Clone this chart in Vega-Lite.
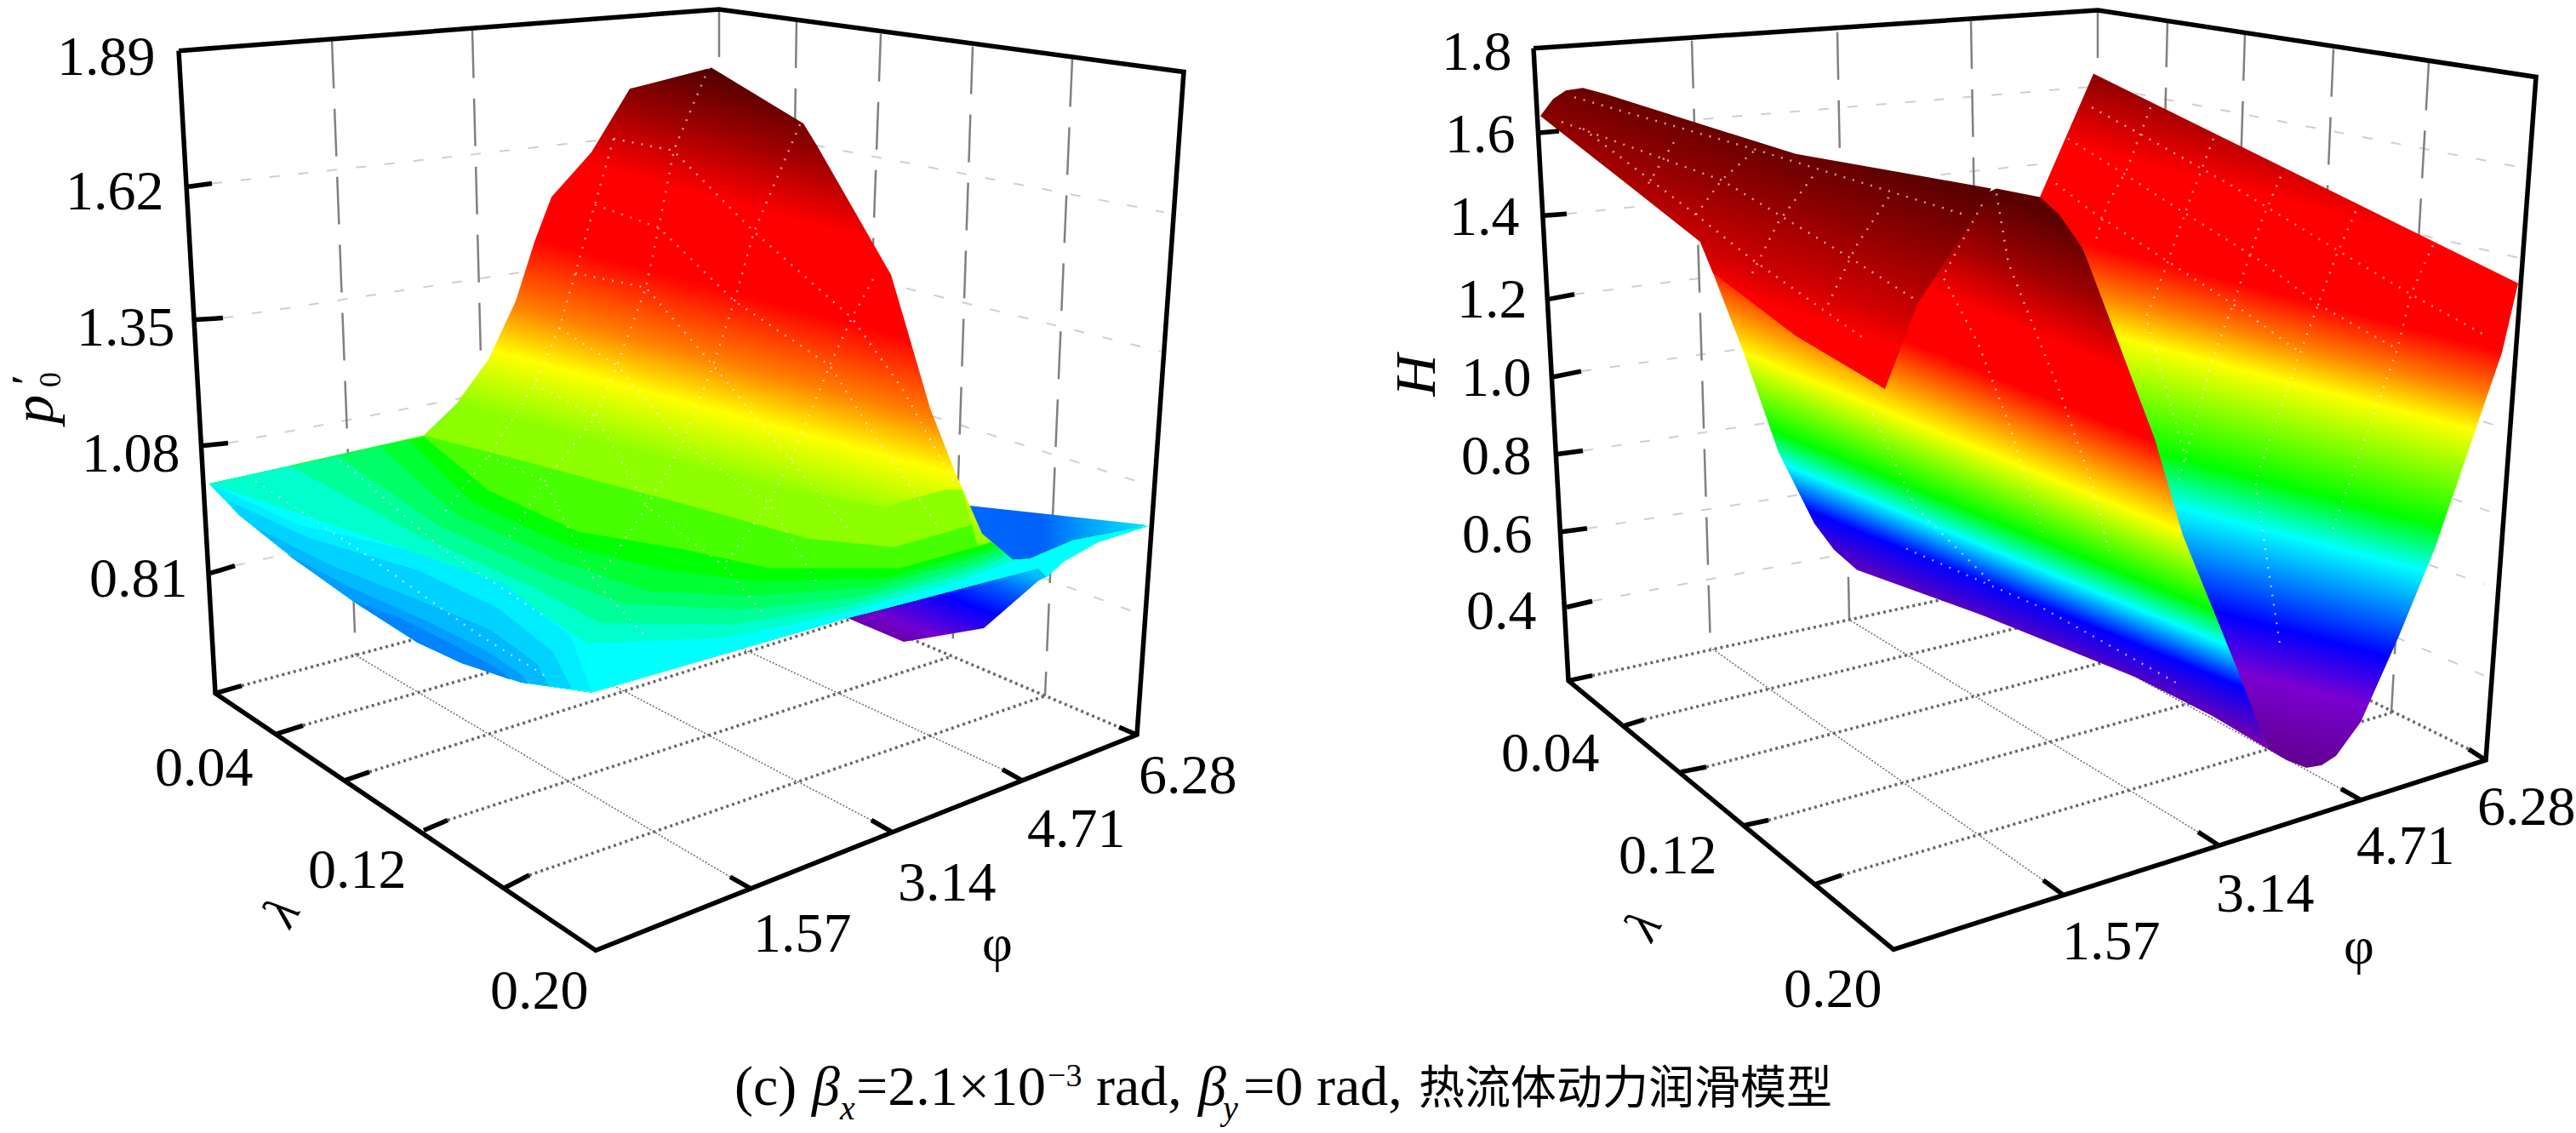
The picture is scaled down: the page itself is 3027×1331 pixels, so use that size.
{
  "$schema": "https://vega.github.io/schema/vega-lite/v6.json",
  "width": 3027,
  "height": 1331,
  "autosize": {"type": "fit", "contains": "padding"},
  "padding": 0,
  "background": "white",
  "config": {"view": {"stroke": null}},
  "datasets": {
    "wallH": [
      {"p":"a","x":249,"y":208},{"p":"a","x":845,"y":141},{"p":"a","x":1368,"y":242},
      {"p":"b","x":262,"y":367},{"p":"b","x":845,"y":277},{"p":"b","x":1365,"y":407},
      {"p":"c","x":268,"y":515},{"p":"c","x":845,"y":403},{"p":"c","x":1345,"y":563},
      {"p":"d","x":276,"y":660},{"p":"d","x":845,"y":530},{"p":"d","x":1344,"y":719},
      {"p":"e","x":1832,"y":146},{"p":"e","x":2465,"y":93},{"p":"e","x":2968,"y":190},
      {"p":"f","x":1841,"y":244},{"p":"f","x":2465,"y":178},{"p":"f","x":2960,"y":296},
      {"p":"g","x":1850,"y":339},{"p":"g","x":2465,"y":260},{"p":"g","x":2949,"y":400},
      {"p":"h","x":1858,"y":430},{"p":"h","x":2465,"y":345},{"p":"h","x":2935,"y":495},
      {"p":"i","x":1860,"y":524},{"p":"i","x":2465,"y":432},{"p":"i","x":2931,"y":598},
      {"p":"j","x":1865,"y":616},{"p":"j","x":2465,"y":520},{"p":"j","x":2919,"y":682},
      {"p":"k","x":1871,"y":702},{"p":"k","x":2465,"y":590},{"p":"k","x":2919,"y":790}
    ],
    "wallV": [
      {"p":"a","x":390,"y":39},{"p":"a","x":418,"y":766},
      {"p":"b","x":555,"y":27},{"p":"b","x":573,"y":724},
      {"p":"c","x":845,"y":2},{"p":"c","x":845,"y":650},
      {"p":"d","x":936,"y":15},{"p":"d","x":926,"y":685},
      {"p":"e","x":1035,"y":31},{"p":"e","x":1010,"y":720},
      {"p":"f","x":1143,"y":46},{"p":"f","x":1119,"y":767},
      {"p":"g","x":1260,"y":61},{"p":"g","x":1228,"y":814},
      {"p":"h","x":1988,"y":39},{"p":"h","x":2010,"y":757},
      {"p":"i","x":2159,"y":29},{"p":"i","x":2173,"y":724},
      {"p":"j","x":2316,"y":16},{"p":"j","x":2328,"y":692},
      {"p":"k","x":2465,"y":3},{"p":"k","x":2465,"y":660},
      {"p":"l","x":2547,"y":14},{"p":"l","x":2531,"y":694},
      {"p":"m","x":2638,"y":30},{"p":"m","x":2616,"y":736},
      {"p":"n","x":2742,"y":49},{"p":"n","x":2711,"y":784},
      {"p":"o","x":2854,"y":65},{"p":"o","x":2810,"y":834}
    ],
    "floorA": [
      {"p":"a","x":284,"y":802},{"p":"a","x":845,"y":650},
      {"p":"b","x":356,"y":849},{"p":"b","x":926,"y":685},
      {"p":"c","x":434,"y":904},{"p":"c","x":1010,"y":720},
      {"p":"d","x":526,"y":961},{"p":"d","x":1119,"y":767},
      {"p":"e","x":622,"y":1026},{"p":"e","x":1228,"y":814},
      {"p":"f","x":845,"y":650},{"p":"f","x":1315,"y":851},
      {"p":"g","x":1871,"y":790},{"p":"g","x":2465,"y":660},
      {"p":"h","x":1932,"y":842},{"p":"h","x":2531,"y":694},
      {"p":"i","x":2005,"y":898},{"p":"i","x":2616,"y":736},
      {"p":"j","x":2078,"y":961},{"p":"j","x":2711,"y":784},
      {"p":"k","x":2164,"y":1026},{"p":"k","x":2810,"y":834},
      {"p":"l","x":2465,"y":660},{"p":"l","x":2901,"y":877}
    ],
    "floorB": [
      {"p":"a","x":858,"y":1028},{"p":"a","x":418,"y":766},
      {"p":"b","x":1024,"y":961},{"p":"b","x":573,"y":724},
      {"p":"c","x":1178,"y":901},{"p":"c","x":718,"y":686},
      {"p":"d","x":2401,"y":1032},{"p":"d","x":2010,"y":757},
      {"p":"e","x":2583,"y":975},{"p":"e","x":2173,"y":724},
      {"p":"f","x":2751,"y":924},{"p":"f","x":2328,"y":692}
    ],
    "rearUp": [
      {"x":1139,"y":589},{"x":1348,"y":612},{"x":1276,"y":635},{"x":1210,"y":655},{"x":1184,"y":655},{"x":1150,"y":625}
    ],
    "rearLow": [
      {"x":996,"y":722},{"x":1062,"y":750},{"x":1156,"y":734},{"x":1220,"y":678},{"x":1235,"y":670},{"x":1220,"y":660}
    ],
    "leftBase": [
      {"x":246,"y":563},{"x":498,"y":506},{"x":536,"y":469},{"x":574,"y":416},{"x":606,"y":347},{"x":628,"y":277},{"x":648,"y":224},{"x":695,"y":171},{"x":740,"y":96},{"x":836,"y":71},{"x":944,"y":137},{"x":960,"y":163},{"x":1047,"y":316},{"x":1062,"y":367},{"x":1093,"y":474},{"x":1123,"y":551},{"x":1154,"y":622},
      {"x":1190,"y":653},{"x":1210,"y":652},{"x":1261,"y":630},{"x":1350,"y":613},{"x":1290,"y":632},{"x":1250,"y":655},{"x":1230,"y":673},{"x":1220,"y":663},{"x":996,"y":722},{"x":695,"y":810},{"x":612,"y":798},{"x":542,"y":775},{"x":491,"y":751},{"x":415,"y":702},{"x":332,"y":641},{"x":281,"y":600}
    ],
    "leftBands": [
      {"p":"n1","z":1.22,"x":540,"y":469},{"p":"n1","z":1.22,"x":700,"y":512},{"p":"n1","z":1.22,"x":900,"y":566},{"p":"n1","z":1.22,"x":1040,"y":590},{"p":"n1","z":1.22,"x":1110,"y":570},{"p":"n1","z":1.22,"x":1131,"y":570},{"p":"n1","z":1.22,"x":1149,"y":637},{"p":"n1","z":1.22,"x":1057,"y":663},{"p":"n1","z":1.22,"x":904,"y":663},{"p":"n1","z":1.22,"x":800,"y":640},{"p":"n1","z":1.22,"x":680,"y":620},{"p":"n1","z":1.22,"x":574,"y":571},{"p":"n1","z":1.22,"x":498,"y":506},

      {"p":"n2","z":1.17,"x":498,"y":506},{"p":"n2","z":1.17,"x":600,"y":532},{"p":"n2","z":1.17,"x":800,"y":586},{"p":"n2","z":1.17,"x":950,"y":628},{"p":"n2","z":1.17,"x":1050,"y":638},{"p":"n2","z":1.17,"x":1142,"y":612},{"p":"n2","z":1.17,"x":1149,"y":637},{"p":"n2","z":1.17,"x":1057,"y":663},{"p":"n2","z":1.17,"x":904,"y":663},{"p":"n2","z":1.17,"x":800,"y":640},{"p":"n2","z":1.17,"x":680,"y":620},{"p":"n2","z":1.17,"x":574,"y":571},

      {"p":"p1","z":1.12,"x":498,"y":508},{"p":"p1","z":1.12,"x":574,"y":571},{"p":"p1","z":1.12,"x":680,"y":620},{"p":"p1","z":1.12,"x":800,"y":640},{"p":"p1","z":1.12,"x":904,"y":663},{"p":"p1","z":1.12,"x":1057,"y":663},{"p":"p1","z":1.12,"x":1149,"y":637},{"p":"p1","z":1.12,"x":1165,"y":632},
      {"p":"p1","z":1.12,"x":1190,"y":653},{"p":"p1","z":1.12,"x":1210,"y":652},{"p":"p1","z":1.12,"x":1261,"y":630},{"p":"p1","z":1.12,"x":1350,"y":613},{"p":"p1","z":1.12,"x":1290,"y":632},{"p":"p1","z":1.12,"x":1250,"y":655},{"p":"p1","z":1.12,"x":1230,"y":673},{"p":"p1","z":1.12,"x":1220,"y":663},{"p":"p1","z":1.12,"x":996,"y":722},{"p":"p1","z":1.12,"x":695,"y":810},{"p":"p1","z":1.12,"x":612,"y":798},{"p":"p1","z":1.12,"x":542,"y":775},{"p":"p1","z":1.12,"x":491,"y":751},{"p":"p1","z":1.12,"x":415,"y":702},{"p":"p1","z":1.12,"x":332,"y":641},{"p":"p1","z":1.12,"x":281,"y":600},{"p":"p1","z":1.12,"x":246,"y":563},

      {"p":"p2","z":1.08,"x":480,"y":511},{"p":"p2","z":1.08,"x":555,"y":585},{"p":"p2","z":1.08,"x":668,"y":637},{"p":"p2","z":1.08,"x":780,"y":665},{"p":"p2","z":1.08,"x":894,"y":679},{"p":"p2","z":1.08,"x":1042,"y":674},{"p":"p2","z":1.08,"x":1145,"y":645},{"p":"p2","z":1.08,"x":1170,"y":637},
      {"p":"p2","z":1.08,"x":1190,"y":653},{"p":"p2","z":1.08,"x":1210,"y":652},{"p":"p2","z":1.08,"x":1261,"y":630},{"p":"p2","z":1.08,"x":1350,"y":613},{"p":"p2","z":1.08,"x":1290,"y":632},{"p":"p2","z":1.08,"x":1250,"y":655},{"p":"p2","z":1.08,"x":1230,"y":673},{"p":"p2","z":1.08,"x":1220,"y":663},{"p":"p2","z":1.08,"x":996,"y":722},{"p":"p2","z":1.08,"x":695,"y":810},{"p":"p2","z":1.08,"x":612,"y":798},{"p":"p2","z":1.08,"x":542,"y":775},{"p":"p2","z":1.08,"x":491,"y":751},{"p":"p2","z":1.08,"x":415,"y":702},{"p":"p2","z":1.08,"x":332,"y":641},{"p":"p2","z":1.08,"x":281,"y":600},{"p":"p2","z":1.08,"x":246,"y":563},

      {"p":"p3","z":1.04,"x":446,"y":519},{"p":"p3","z":1.04,"x":536,"y":599},{"p":"p3","z":1.04,"x":656,"y":654},{"p":"p3","z":1.04,"x":760,"y":690},{"p":"p3","z":1.04,"x":884,"y":696},{"p":"p3","z":1.04,"x":1026,"y":685},{"p":"p3","z":1.04,"x":1141,"y":653},{"p":"p3","z":1.04,"x":1175,"y":640},
      {"p":"p3","z":1.04,"x":1190,"y":653},{"p":"p3","z":1.04,"x":1210,"y":652},{"p":"p3","z":1.04,"x":1261,"y":630},{"p":"p3","z":1.04,"x":1350,"y":613},{"p":"p3","z":1.04,"x":1290,"y":632},{"p":"p3","z":1.04,"x":1250,"y":655},{"p":"p3","z":1.04,"x":1230,"y":673},{"p":"p3","z":1.04,"x":1220,"y":663},{"p":"p3","z":1.04,"x":996,"y":722},{"p":"p3","z":1.04,"x":695,"y":810},{"p":"p3","z":1.04,"x":612,"y":798},{"p":"p3","z":1.04,"x":542,"y":775},{"p":"p3","z":1.04,"x":491,"y":751},{"p":"p3","z":1.04,"x":415,"y":702},{"p":"p3","z":1.04,"x":332,"y":641},{"p":"p3","z":1.04,"x":281,"y":600},{"p":"p3","z":1.04,"x":246,"y":563},

      {"p":"p4","z":1.0,"x":396,"y":530},{"p":"p4","z":1.0,"x":516,"y":613},{"p":"p4","z":1.0,"x":644,"y":671},{"p":"p4","z":1.0,"x":730,"y":705},{"p":"p4","z":1.0,"x":873,"y":712},{"p":"p4","z":1.0,"x":1011,"y":697},{"p":"p4","z":1.0,"x":1138,"y":661},{"p":"p4","z":1.0,"x":1180,"y":645},
      {"p":"p4","z":1.0,"x":1190,"y":653},{"p":"p4","z":1.0,"x":1210,"y":652},{"p":"p4","z":1.0,"x":1261,"y":630},{"p":"p4","z":1.0,"x":1350,"y":613},{"p":"p4","z":1.0,"x":1290,"y":632},{"p":"p4","z":1.0,"x":1250,"y":655},{"p":"p4","z":1.0,"x":1230,"y":673},{"p":"p4","z":1.0,"x":1220,"y":663},{"p":"p4","z":1.0,"x":996,"y":722},{"p":"p4","z":1.0,"x":695,"y":810},{"p":"p4","z":1.0,"x":612,"y":798},{"p":"p4","z":1.0,"x":542,"y":775},{"p":"p4","z":1.0,"x":491,"y":751},{"p":"p4","z":1.0,"x":415,"y":702},{"p":"p4","z":1.0,"x":332,"y":641},{"p":"p4","z":1.0,"x":281,"y":600},{"p":"p4","z":1.0,"x":246,"y":563},

      {"p":"p5","z":0.96,"x":340,"y":542},{"p":"p5","z":0.96,"x":497,"y":627},{"p":"p5","z":0.96,"x":632,"y":688},{"p":"p5","z":0.96,"x":705,"y":728},{"p":"p5","z":0.96,"x":863,"y":729},{"p":"p5","z":0.96,"x":995,"y":708},{"p":"p5","z":0.96,"x":1134,"y":669},{"p":"p5","z":0.96,"x":1185,"y":649},
      {"p":"p5","z":0.96,"x":1190,"y":653},{"p":"p5","z":0.96,"x":1210,"y":652},{"p":"p5","z":0.96,"x":1261,"y":630},{"p":"p5","z":0.96,"x":1350,"y":613},{"p":"p5","z":0.96,"x":1290,"y":632},{"p":"p5","z":0.96,"x":1250,"y":655},{"p":"p5","z":0.96,"x":1230,"y":673},{"p":"p5","z":0.96,"x":1220,"y":663},{"p":"p5","z":0.96,"x":996,"y":722},{"p":"p5","z":0.96,"x":695,"y":810},{"p":"p5","z":0.96,"x":612,"y":798},{"p":"p5","z":0.96,"x":542,"y":775},{"p":"p5","z":0.96,"x":491,"y":751},{"p":"p5","z":0.96,"x":415,"y":702},{"p":"p5","z":0.96,"x":332,"y":641},{"p":"p5","z":0.96,"x":281,"y":600},{"p":"p5","z":0.96,"x":246,"y":563},

      {"p":"p6","z":0.92,"x":246,"y":563},{"p":"p6","z":0.92,"x":478,"y":641},{"p":"p6","z":0.92,"x":620,"y":705},{"p":"p6","z":0.92,"x":690,"y":752},{"p":"p6","z":0.92,"x":853,"y":745},{"p":"p6","z":0.92,"x":980,"y":719},{"p":"p6","z":0.92,"x":1130,"y":677},{"p":"p6","z":0.92,"x":1190,"y":655},
      {"p":"p6","z":0.92,"x":1210,"y":652},{"p":"p6","z":0.92,"x":1261,"y":630},{"p":"p6","z":0.92,"x":1350,"y":613},{"p":"p6","z":0.92,"x":1290,"y":632},{"p":"p6","z":0.92,"x":1250,"y":655},{"p":"p6","z":0.92,"x":1230,"y":673},{"p":"p6","z":0.92,"x":1220,"y":663},{"p":"p6","z":0.92,"x":996,"y":722},{"p":"p6","z":0.92,"x":695,"y":810},{"p":"p6","z":0.92,"x":612,"y":798},{"p":"p6","z":0.92,"x":542,"y":775},{"p":"p6","z":0.92,"x":491,"y":751},{"p":"p6","z":0.92,"x":415,"y":702},{"p":"p6","z":0.92,"x":332,"y":641},{"p":"p6","z":0.92,"x":281,"y":600},

      {"p":"q1","z":0.9,"x":246,"y":563},{"p":"q1","z":0.9,"x":351,"y":612},{"p":"q1","z":0.9,"x":478,"y":641},{"p":"q1","z":0.9,"x":593,"y":682},{"p":"q1","z":0.9,"x":670,"y":743},{"p":"q1","z":0.9,"x":695,"y":808},{"p":"q1","z":0.9,"x":612,"y":798},{"p":"q1","z":0.9,"x":542,"y":775},{"p":"q1","z":0.9,"x":491,"y":751},{"p":"q1","z":0.9,"x":415,"y":702},{"p":"q1","z":0.9,"x":332,"y":641},{"p":"q1","z":0.9,"x":281,"y":600},

      {"p":"q2","z":0.87,"x":268,"y":583},{"p":"q2","z":0.87,"x":365,"y":628},{"p":"q2","z":0.87,"x":490,"y":665},{"p":"q2","z":0.87,"x":585,"y":710},{"p":"q2","z":0.87,"x":650,"y":762},{"p":"q2","z":0.87,"x":672,"y":806},{"p":"q2","z":0.87,"x":612,"y":798},{"p":"q2","z":0.87,"x":542,"y":775},{"p":"q2","z":0.87,"x":491,"y":751},{"p":"q2","z":0.87,"x":415,"y":702},{"p":"q2","z":0.87,"x":332,"y":641},{"p":"q2","z":0.87,"x":281,"y":600},

      {"p":"q3","z":0.84,"x":300,"y":615},{"p":"q3","z":0.84,"x":390,"y":660},{"p":"q3","z":0.84,"x":490,"y":700},{"p":"q3","z":0.84,"x":575,"y":735},{"p":"q3","z":0.84,"x":630,"y":775},{"p":"q3","z":0.84,"x":645,"y":803},{"p":"q3","z":0.84,"x":612,"y":798},{"p":"q3","z":0.84,"x":542,"y":775},{"p":"q3","z":0.84,"x":491,"y":751},{"p":"q3","z":0.84,"x":415,"y":702},{"p":"q3","z":0.84,"x":332,"y":641},

      {"p":"q4","z":0.81,"x":335,"y":645},{"p":"q4","z":0.81,"x":410,"y":685},{"p":"q4","z":0.81,"x":500,"y":725},{"p":"q4","z":0.81,"x":570,"y":760},{"p":"q4","z":0.81,"x":615,"y":790},{"p":"q4","z":0.81,"x":620,"y":800},{"p":"q4","z":0.81,"x":612,"y":798},{"p":"q4","z":0.81,"x":542,"y":775},{"p":"q4","z":0.81,"x":491,"y":751},{"p":"q4","z":0.81,"x":415,"y":702},

      {"p":"q5","z":0.78,"x":415,"y":702},{"p":"q5","z":0.78,"x":470,"y":722},{"p":"q5","z":0.78,"x":530,"y":752},{"p":"q5","z":0.78,"x":585,"y":782},{"p":"q5","z":0.78,"x":600,"y":795},{"p":"q5","z":0.78,"x":542,"y":775},{"p":"q5","z":0.78,"x":491,"y":751}
    ],
    "sheetC": [
      {"x":2460,"y":78},{"x":2959,"y":326},{"x":2940,"y":408},{"x":2861,"y":640},{"x":2819,"y":743},{"x":2774,"y":845},{"x":2745,"y":885},{"x":2728,"y":896},{"x":2710,"y":899},{"x":2687,"y":890},{"x":2665,"y":877},{"x":2569,"y":640},{"x":2448,"y":286},{"x":2397,"y":224}
    ],
    "sheetB": [
      {"x":1998,"y":277},{"x":2013,"y":314},{"x":2049,"y":408},{"x":2090,"y":526},{"x":2132,"y":610},{"x":2155,"y":641},{"x":2182,"y":665},{"x":2328,"y":718},{"x":2510,"y":792},{"x":2600,"y":838},{"x":2665,"y":877},{"x":2628,"y":780},{"x":2565,"y":624},{"x":2532,"y":510},{"x":2448,"y":286},{"x":2420,"y":245},{"x":2397,"y":224},{"x":2346,"y":214},{"x":2320,"y":225},{"x":2100,"y":300}
    ],
    "sheetA": [
      {"x":1810,"y":128},{"x":1825,"y":108},{"x":1840,"y":98},{"x":1860,"y":95},{"x":1886,"y":102},{"x":2110,"y":173},{"x":2263,"y":200},{"x":2340,"y":214},{"x":2329,"y":233},{"x":2253,"y":351},{"x":2215,"y":451},{"x":2110,"y":388},{"x":2013,"y":314},{"x":1998,"y":277},{"x":1911,"y":208}
    ],
    "mesh": [
      {"p":"m1","x":833,"y":71},{"p":"m1","x":792,"y":168},{"p":"m1","x":774,"y":260},{"p":"m1","x":759,"y":331},{"p":"m1","x":725,"y":423},{"p":"m1","x":700,"y":484},{"p":"m1","x":640,"y":560},{"p":"m1","x":590,"y":640},
      {"p":"m2","x":721,"y":155},{"p":"m2","x":699,"y":233},{"p":"m2","x":676,"y":314},{"p":"m2","x":657,"y":379},{"p":"m2","x":628,"y":445},{"p":"m2","x":574,"y":530},{"p":"m2","x":520,"y":600},
      {"p":"m3","x":940,"y":138},{"p":"m3","x":886,"y":265},{"p":"m3","x":863,"y":347},{"p":"m3","x":838,"y":423},{"p":"m3","x":802,"y":515},{"p":"m3","x":760,"y":590},{"p":"m3","x":700,"y":680},
      {"p":"m4","x":1026,"y":321},{"p":"m4","x":1001,"y":367},{"p":"m4","x":975,"y":423},{"p":"m4","x":929,"y":535},{"p":"m4","x":904,"y":586},{"p":"m4","x":850,"y":660},
      {"p":"m5","x":721,"y":155},{"p":"m5","x":791,"y":169},{"p":"m5","x":886,"y":265},{"p":"m5","x":1001,"y":367},{"p":"m5","x":1060,"y":450},{"p":"m5","x":1120,"y":560},
      {"p":"m6","x":699,"y":233},{"p":"m6","x":774,"y":260},{"p":"m6","x":863,"y":347},{"p":"m6","x":975,"y":423},{"p":"m6","x":1030,"y":510},{"p":"m6","x":1100,"y":610},
      {"p":"m7","x":676,"y":314},{"p":"m7","x":759,"y":331},{"p":"m7","x":838,"y":423},{"p":"m7","x":929,"y":535},{"p":"m7","x":1000,"y":620},
      {"p":"m8","x":657,"y":379},{"p":"m8","x":725,"y":423},{"p":"m8","x":802,"y":515},{"p":"m8","x":904,"y":586},{"p":"m8","x":960,"y":680},
      {"p":"m9","x":628,"y":445},{"p":"m9","x":700,"y":484},{"p":"m9","x":760,"y":590},{"p":"m9","x":850,"y":660},{"p":"m9","x":900,"y":720},
      {"p":"m10","x":574,"y":530},{"p":"m10","x":640,"y":560},{"p":"m10","x":700,"y":680},{"p":"m10","x":760,"y":745},
      {"p":"m11","x":300,"y":560},{"p":"m11","x":420,"y":640},{"p":"m11","x":560,"y":740},{"p":"m11","x":640,"y":790},
      {"p":"m12","x":400,"y":535},{"p":"m12","x":520,"y":640},{"p":"m12","x":640,"y":720},

      {"p":"a1","x":1850,"y":106},{"p":"a1","x":2060,"y":167},{"p":"a1","x":2309,"y":245},
      {"p":"a2","x":1835,"y":135},{"p":"a2","x":2023,"y":204},{"p":"a2","x":2171,"y":294},{"p":"a2","x":2253,"y":347},
      {"p":"a3","x":1860,"y":143},{"p":"a3","x":1993,"y":245},{"p":"a3","x":2059,"y":298},{"p":"a3","x":2194,"y":394},
      {"p":"a4","x":1937,"y":208},{"p":"a4","x":1967,"y":159},
      {"p":"a5","x":1993,"y":245},{"p":"a5","x":2023,"y":204},{"p":"a5","x":2064,"y":167},
      {"p":"a6","x":2059,"y":314},{"p":"a6","x":2090,"y":253},{"p":"a6","x":2130,"y":200},
      {"p":"a7","x":2148,"y":351},{"p":"a7","x":2181,"y":282},{"p":"a7","x":2222,"y":220},

      {"p":"c1","x":2458,"y":118},{"p":"c1","x":2532,"y":159},{"p":"c1","x":2625,"y":212},{"p":"c1","x":2745,"y":286},{"p":"c1","x":2833,"y":339},{"p":"c1","x":2921,"y":388},
      {"p":"c2","x":2430,"y":155},{"p":"c2","x":2495,"y":196},{"p":"c2","x":2564,"y":241},{"p":"c2","x":2657,"y":300},{"p":"c2","x":2724,"y":351},{"p":"c2","x":2817,"y":404},
      {"p":"c3","x":2416,"y":208},{"p":"c3","x":2458,"y":241},{"p":"c3","x":2532,"y":290},{"p":"c3","x":2638,"y":360},{"p":"c3","x":2703,"y":408},
      {"p":"c4","x":2527,"y":118},{"p":"c4","x":2499,"y":192},{"p":"c4","x":2476,"y":233},{"p":"c4","x":2462,"y":277},
      {"p":"c5","x":2601,"y":155},{"p":"c5","x":2573,"y":228},{"p":"c5","x":2546,"y":304},{"p":"c5","x":2522,"y":367},{"p":"c5","x":2570,"y":540},
      {"p":"c6","x":2680,"y":200},{"p":"c6","x":2657,"y":253},{"p":"c6","x":2638,"y":310},{"p":"c6","x":2624,"y":351},{"p":"c6","x":2601,"y":412},{"p":"c6","x":2560,"y":560},
      {"p":"c7","x":2768,"y":241},{"p":"c7","x":2745,"y":294},{"p":"c7","x":2724,"y":351},{"p":"c7","x":2703,"y":408},{"p":"c7","x":2650,"y":560},{"p":"c7","x":2680,"y":760},
      {"p":"c8","x":2859,"y":281},{"p":"c8","x":2833,"y":339},{"p":"c8","x":2817,"y":404},{"p":"c8","x":2791,"y":477},{"p":"c8","x":2740,"y":620},

      {"p":"b1","x":2346,"y":220},{"p":"b1","x":2360,"y":302},{"p":"b1","x":2397,"y":396},{"p":"b1","x":2420,"y":453},{"p":"b1","x":2458,"y":563},{"p":"b1","x":2480,"y":650},
      {"p":"b2","x":2329,"y":233},{"p":"b2","x":2283,"y":318},{"p":"b2","x":2324,"y":396},{"p":"b2","x":2360,"y":490},{"p":"b2","x":2400,"y":620},
      {"p":"b3","x":2200,"y":480},{"p":"b3","x":2250,"y":590},{"p":"b3","x":2340,"y":680},
      {"p":"b4","x":2240,"y":640},{"p":"b4","x":2400,"y":710},{"p":"b4","x":2560,"y":800}
    ],
    "box": [
      {"p":"L","x":210,"y":51},{"p":"L","x":253,"y":811},{"p":"L","x":700,"y":1115},{"p":"L","x":1336,"y":860},{"p":"L","x":1391,"y":76},{"p":"L","x":845,"y":2},{"p":"L","x":210,"y":51},
      {"p":"R","x":1802,"y":48},{"p":"R","x":1843,"y":796},{"p":"R","x":2225,"y":1114},{"p":"R","x":2921,"y":890},{"p":"R","x":2980,"y":82},{"p":"R","x":2465,"y":3},{"p":"R","x":1802,"y":48},
      {"p":"t1","x":220,"y":212},{"p":"t1","x":249,"y":208},
      {"p":"t2","x":230,"y":369},{"p":"t2","x":262,"y":367},
      {"p":"t3","x":239,"y":518},{"p":"t3","x":268,"y":515},
      {"p":"t4","x":247,"y":669},{"p":"t4","x":276,"y":660},
      {"p":"t5","x":253,"y":811},{"p":"t5","x":284,"y":802},
      {"p":"t6","x":325,"y":859},{"p":"t6","x":356,"y":849},
      {"p":"t7","x":405,"y":914},{"p":"t7","x":434,"y":904},
      {"p":"t8","x":498,"y":973},{"p":"t8","x":526,"y":961},
      {"p":"t9","x":593,"y":1041},{"p":"t9","x":622,"y":1026},
      {"p":"t10","x":884,"y":1043},{"p":"t10","x":858,"y":1028},
      {"p":"t11","x":1048,"y":975},{"p":"t11","x":1024,"y":961},
      {"p":"t12","x":1201,"y":914},{"p":"t12","x":1178,"y":901},
      {"p":"t13","x":1336,"y":860},{"p":"t13","x":1315,"y":851},
      {"p":"u1","x":1809,"y":148},{"p":"u1","x":1832,"y":146},
      {"p":"u2","x":1814,"y":246},{"p":"u2","x":1841,"y":244},
      {"p":"u3","x":1819,"y":345},{"p":"u3","x":1850,"y":339},
      {"p":"u4","x":1824,"y":437},{"p":"u4","x":1858,"y":430},
      {"p":"u5","x":1830,"y":528},{"p":"u5","x":1860,"y":524},
      {"p":"u6","x":1835,"y":620},{"p":"u6","x":1865,"y":616},
      {"p":"u7","x":1841,"y":709},{"p":"u7","x":1871,"y":702},
      {"p":"u8","x":1843,"y":796},{"p":"u8","x":1871,"y":790},
      {"p":"u9","x":1909,"y":849},{"p":"u9","x":1932,"y":842},
      {"p":"u10","x":1975,"y":904},{"p":"u10","x":2005,"y":898},
      {"p":"u11","x":2050,"y":967},{"p":"u11","x":2078,"y":961},
      {"p":"u12","x":2132,"y":1037},{"p":"u12","x":2164,"y":1026},
      {"p":"u13","x":2424,"y":1049},{"p":"u13","x":2401,"y":1032},
      {"p":"u14","x":2606,"y":990},{"p":"u14","x":2583,"y":975},
      {"p":"u15","x":2774,"y":937},{"p":"u15","x":2751,"y":924},
      {"p":"u16","x":2921,"y":890},{"p":"u16","x":2901,"y":877}
    ],
    "ticks": [
      {"t":"1.89","x":67,"y":80},{"t":"1.62","x":77,"y":239},{"t":"1.35","x":90,"y":400},{"t":"1.08","x":96,"y":549},{"t":"0.81","x":105,"y":697},
      {"t":"0.04","x":182,"y":920},{"t":"0.12","x":362,"y":1041},{"t":"0.20","x":576,"y":1184},
      {"t":"1.57","x":885,"y":1117},{"t":"3.14","x":1055,"y":1056},{"t":"4.71","x":1207,"y":993},{"t":"6.28","x":1338,"y":929},
      {"t":"1.8","x":1694,"y":74},{"t":"1.6","x":1698,"y":171},{"t":"1.4","x":1703,"y":269},{"t":"1.2","x":1712,"y":366},{"t":"1.0","x":1717,"y":459},{"t":"0.8","x":1717,"y":552},{"t":"0.6","x":1718,"y":644},{"t":"0.4","x":1723,"y":735},
      {"t":"0.04","x":1764,"y":903},{"t":"0.12","x":1902,"y":1024},{"t":"0.20","x":2096,"y":1182},
      {"t":"1.57","x":2423,"y":1126},{"t":"3.14","x":2604,"y":1069},{"t":"4.71","x":2769,"y":1013},{"t":"6.28","x":2911,"y":967}
    ],
    "phi": [{"t":"φ","x":1172,"y":1108},{"t":"φ","x":2772,"y":1112}],
    "lam": [{"t":"λ","x":332,"y":1070},{"t":"λ","x":1932,"y":1086}],
    "rotAxis": [{"t":"p","x":42,"y":475},{"t":"H","x":1666,"y":435}],
    "rotSub": [{"t":"0","x":60,"y":440}],
    "rotPrime": [{"t":"′","x":32,"y":440}],
    "capText": [
      {"t":"(c)","x":863,"y":1298},{"t":"=2.1×10","x":1006,"y":1298},{"t":"rad,","x":1288,"y":1298},{"t":"=0","x":1461,"y":1298},{"t":"rad,","x":1547,"y":1298}
    ],
    "capBeta": [{"t":"β","x":954,"y":1298},{"t":"β","x":1408,"y":1298}],
    "capSub": [{"t":"x","x":987,"y":1315},{"t":"y","x":1437,"y":1315}],
    "capSup": [{"t":"−3","x":1231,"y":1276}],
    "capCjk": [{"t":"热流体动力润滑模型","x":1667,"y":1297}]
  },
  "encoding": {
    "x": {"field": "x", "type": "quantitative", "scale": {"domain": [0, 3027], "nice": false, "zero": false}, "axis": null},
    "y": {"field": "y", "type": "quantitative", "scale": {"domain": [1331, 0], "nice": false, "zero": false}, "axis": null}
  },
  "layer": [
    {
      "data": {"name": "wallH"},
      "mark": {"type": "line", "color": "#cfcfcf", "strokeWidth": 2, "strokeDash": [12, 22]},
      "encoding": {"detail": {"field": "p"}, "order": {"value": null}}
    },
    {
      "data": {"name": "wallV"},
      "mark": {"type": "line", "color": "#808080", "strokeWidth": 2.5, "strokeDash": [56, 24]},
      "encoding": {"detail": {"field": "p"}, "order": {"value": null}}
    },
    {
      "data": {"name": "floorA"},
      "mark": {"type": "line", "color": "#66666e", "strokeWidth": 3.5, "strokeDash": [3, 4]},
      "encoding": {"detail": {"field": "p"}, "order": {"value": null}}
    },
    {
      "data": {"name": "floorB"},
      "mark": {"type": "line", "color": "#6a6a72", "strokeWidth": 1.5, "strokeDash": [2, 2]},
      "encoding": {"detail": {"field": "p"}, "order": {"value": null}}
    },
    {
      "data": {"name": "rearUp"},
      "mark": {"type": "line", "stroke": "transparent", "strokeWidth": 0, "fill": {"gradient": "linear", "x1": 0, "y1": 0.5, "x2": 1, "y2": 0.5, "stops": [{"offset": 0, "color": "#0068ff"}, {"offset": 0.4, "color": "#0060f8"}, {"offset": 0.7, "color": "#00a8ff"}, {"offset": 1, "color": "#00e8ff"}]}},
      "encoding": {"order": {"value": null}}
    },
    {
      "data": {"name": "rearLow"},
      "mark": {"type": "line", "stroke": "transparent", "strokeWidth": 0, "fill": {"gradient": "linear", "x1": 0.2, "y1": 1, "x2": 1, "y2": 0.2, "stops": [{"offset": 0, "color": "#6a00a0"}, {"offset": 0.2, "color": "#7000d0"}, {"offset": 0.55, "color": "#0000ff"}, {"offset": 0.8, "color": "#0060ff"}, {"offset": 1, "color": "#00c0ff"}]}},
      "encoding": {"order": {"value": null}}
    },
    {
      "data": {"name": "leftBase"},
      "mark": {"type": "line", "stroke": "transparent", "strokeWidth": 0, "fill": {"gradient": "linear", "x1": 0.534, "y1": 0, "x2": 0.131, "y2": 1, "stops": [{"offset": 0, "color": "#4f0000"}, {"offset": 0.09, "color": "#a00000"}, {"offset": 0.18, "color": "#ff0000"}, {"offset": 0.3, "color": "#ff0000"}, {"offset": 0.4, "color": "#ff8000"}, {"offset": 0.47, "color": "#ffff00"}, {"offset": 0.665, "color": "#00ff00"}, {"offset": 1, "color": "#00ff00"}]}},
      "encoding": {"order": {"value": null}}
    },
    {
      "data": {"name": "leftBands"},
      "mark": {"type": "line", "stroke": "transparent", "strokeWidth": 0},
      "encoding": {
        "detail": {"field": "p"},
        "order": {"value": null},
        "fill": {"field": "z", "type": "quantitative", "legend": null, "scale": {"domain": [0.72, 0.92, 1.12, 1.3], "range": ["#0050ff", "#00ffff", "#00ff00", "#ffff00"], "interpolate": "rgb"}}
      }
    },
    {
      "data": {"name": "sheetC"},
      "mark": {"type": "line", "stroke": "transparent", "strokeWidth": 0, "fill": {"gradient": "linear", "x1": 0.112, "y1": 0, "x2": -0.066, "y2": 1, "stops": [{"offset": 0, "color": "#8c0000"}, {"offset": 0.11, "color": "#ff0000"}, {"offset": 0.24, "color": "#ff0000"}, {"offset": 0.306, "color": "#ff8000"}, {"offset": 0.36, "color": "#ffff00"}, {"offset": 0.507, "color": "#00ff00"}, {"offset": 0.575, "color": "#00ffff"}, {"offset": 0.708, "color": "#0000ff"}, {"offset": 0.783, "color": "#7a00d0"}, {"offset": 0.892, "color": "#60008f"}, {"offset": 1, "color": "#60008f"}]}},
      "encoding": {"order": {"value": null}}
    },
    {
      "data": {"name": "sheetB"},
      "mark": {"type": "line", "stroke": "transparent", "strokeWidth": 0, "fill": {"gradient": "linear", "x1": 0.5, "y1": 0, "x2": 0.087, "y2": 1, "stops": [{"offset": 0, "color": "#5a0000"}, {"offset": 0.1, "color": "#a00000"}, {"offset": 0.19, "color": "#ff0000"}, {"offset": 0.28, "color": "#ff0000"}, {"offset": 0.34, "color": "#ff8000"}, {"offset": 0.4, "color": "#ffff00"}, {"offset": 0.5, "color": "#00ff00"}, {"offset": 0.545, "color": "#00ffff"}, {"offset": 0.6, "color": "#0000ff"}, {"offset": 0.67, "color": "#6f00b0"}, {"offset": 1, "color": "#6f00b0"}]}},
      "encoding": {"order": {"value": null}}
    },
    {
      "data": {"name": "sheetA"},
      "mark": {"type": "line", "stroke": "transparent", "strokeWidth": 0, "fill": {"gradient": "linear", "x1": 0.5, "y1": 0, "x2": 0.009, "y2": 1, "stops": [{"offset": 0, "color": "#5a0000"}, {"offset": 0.1, "color": "#5a0000"}, {"offset": 0.27, "color": "#8a0000"}, {"offset": 0.49, "color": "#d00000"}, {"offset": 0.58, "color": "#ff0000"}, {"offset": 1, "color": "#ff0000"}]}},
      "encoding": {"order": {"value": null}}
    },
    {
      "data": {"name": "mesh"},
      "mark": {"type": "line", "color": "#f2f2f2", "opacity": 0.65, "strokeWidth": 2.5, "strokeDash": [2, 9]},
      "encoding": {"detail": {"field": "p"}, "order": {"value": null}}
    },
    {
      "data": {"name": "box"},
      "mark": {"type": "line", "color": "#000000", "strokeWidth": 5.5, "strokeJoin": "miter"},
      "encoding": {"detail": {"field": "p"}, "order": {"value": null}}
    },
    {
      "data": {"name": "ticks"},
      "mark": {"type": "text", "font": "Liberation Serif", "fontSize": 66, "align": "left", "baseline": "alphabetic", "color": "#000000"},
      "encoding": {"text": {"field": "t"}}
    },
    {
      "data": {"name": "phi"},
      "mark": {"type": "text", "font": "Liberation Serif", "fontSize": 62, "align": "center", "baseline": "middle", "color": "#000000"},
      "encoding": {"text": {"field": "t"}}
    },
    {
      "data": {"name": "lam"},
      "mark": {"type": "text", "font": "Liberation Serif", "fontStyle": "italic", "fontSize": 60, "angle": 300, "align": "center", "baseline": "middle", "color": "#000000"},
      "encoding": {"text": {"field": "t"}}
    },
    {
      "data": {"name": "rotAxis"},
      "mark": {"type": "text", "font": "Liberation Serif", "fontStyle": "italic", "fontSize": 68, "angle": 270, "align": "center", "baseline": "middle", "color": "#000000"},
      "encoding": {"text": {"field": "t"}}
    },
    {
      "data": {"name": "rotSub"},
      "mark": {"type": "text", "font": "Liberation Serif", "fontSize": 36, "angle": 270, "align": "center", "baseline": "middle", "color": "#000000"},
      "encoding": {"text": {"field": "t"}}
    },
    {
      "data": {"name": "rotPrime"},
      "mark": {"type": "text", "font": "Liberation Serif", "fontWeight": "bold", "fontSize": 46, "angle": 270, "align": "center", "baseline": "middle", "color": "#000000"},
      "encoding": {"text": {"field": "t"}}
    },
    {
      "data": {"name": "capText"},
      "mark": {"type": "text", "font": "Liberation Serif", "fontSize": 66, "align": "left", "baseline": "alphabetic", "color": "#000000"},
      "encoding": {"text": {"field": "t"}}
    },
    {
      "data": {"name": "capBeta"},
      "mark": {"type": "text", "font": "Liberation Serif", "fontStyle": "italic", "fontSize": 66, "align": "left", "baseline": "alphabetic", "color": "#000000"},
      "encoding": {"text": {"field": "t"}}
    },
    {
      "data": {"name": "capSub"},
      "mark": {"type": "text", "font": "Liberation Serif", "fontStyle": "italic", "fontSize": 40, "align": "left", "baseline": "alphabetic", "color": "#000000"},
      "encoding": {"text": {"field": "t"}}
    },
    {
      "data": {"name": "capSup"},
      "mark": {"type": "text", "font": "Liberation Serif", "fontSize": 38, "align": "left", "baseline": "alphabetic", "color": "#000000"},
      "encoding": {"text": {"field": "t"}}
    },
    {
      "data": {"name": "capCjk"},
      "mark": {"type": "text", "font": "Noto Sans CJK SC", "fontSize": 54, "align": "left", "baseline": "alphabetic", "color": "#000000"},
      "encoding": {"text": {"field": "t"}}
    }
  ]
}
